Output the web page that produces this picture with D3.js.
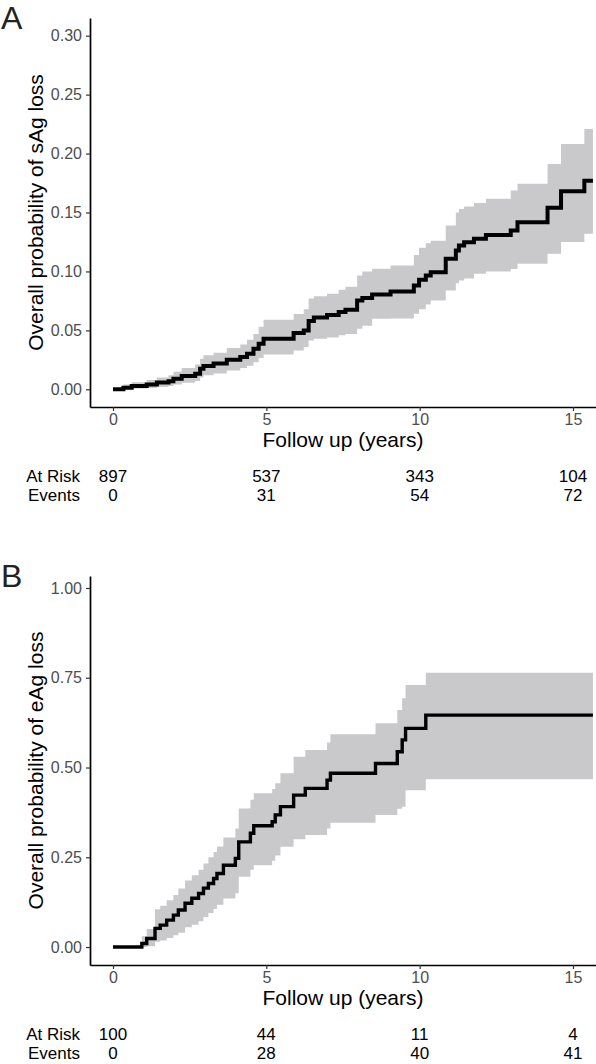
<!DOCTYPE html>
<html>
<head>
<meta charset="utf-8">
<script src="https://cdn.jsdelivr.net/npm/d3@7"></script>
<style>
  body { margin: 0; background: #fff; }
  svg { display: block; font-family: "Liberation Sans", Arial, Helvetica, sans-serif; }
</style>
</head>
<body>
<div id="chart"></div>
<script>
// shared x axis
const xTicks = [0, 5, 10, 15];
const endTime = 15.65;

// Panel A: sAg loss
const timeA  = [0, 0.34, 0.61, 1.10, 1.43, 1.81, 1.97, 2.24, 2.68, 2.84, 2.95, 3.28, 3.71, 4.15, 4.37, 4.58, 4.75, 4.91, 5.89, 6.22, 6.38, 6.55, 6.98, 7.36, 7.58, 7.96, 8.13, 8.45, 9.05, 9.81, 9.98, 10.20, 10.36, 10.85, 11.18, 11.28, 11.45, 11.77, 12.16, 12.97, 13.19, 14.17, 14.61, 15.37];
const estA   = [0, 0.0014, 0.0028, 0.0040, 0.0057, 0.0068, 0.0090, 0.0113, 0.0133, 0.0175, 0.0198, 0.0218, 0.0251, 0.0274, 0.0302, 0.0345, 0.0387, 0.0430, 0.0477, 0.0500, 0.0580, 0.0610, 0.0630, 0.0655, 0.0675, 0.0754, 0.0774, 0.0805, 0.0830, 0.0880, 0.0930, 0.0966, 0.0994, 0.1108, 0.1178, 0.1220, 0.1248, 0.1277, 0.1310, 0.1347, 0.1418, 0.1540, 0.1680, 0.1770];
const lowerA = [0, 0.0002, 0.0006, 0.0012, 0.0020, 0.0028, 0.0040, 0.0055, 0.0070, 0.0100, 0.0120, 0.0135, 0.0160, 0.0180, 0.0200, 0.0230, 0.0265, 0.0295, 0.0330, 0.0360, 0.0415, 0.0430, 0.0440, 0.0458, 0.0470, 0.0514, 0.0540, 0.0599, 0.0600, 0.0641, 0.0680, 0.0720, 0.0754, 0.0839, 0.0900, 0.0924, 0.0940, 0.0980, 0.1000, 0.1020, 0.1065, 0.1150, 0.1249, 0.1319];
const upperA = [0, 0.0040, 0.0060, 0.0080, 0.0100, 0.0120, 0.0150, 0.0180, 0.0210, 0.0260, 0.0290, 0.0310, 0.0350, 0.0380, 0.0420, 0.0470, 0.0530, 0.0590, 0.0640, 0.0680, 0.0770, 0.0790, 0.0810, 0.0845, 0.0870, 0.0966, 0.1000, 0.1023, 0.1051, 0.1140, 0.1200, 0.1240, 0.1260, 0.1390, 0.1500, 0.1530, 0.1550, 0.1580, 0.1616, 0.1686, 0.1743, 0.1912, 0.2082, 0.2209];
const yTicksA = [0, 0.05, 0.10, 0.15, 0.20, 0.25, 0.30];
const atRiskA = [897, 537, 343, 104];
const eventsA = [0, 31, 54, 72];

// Panel B: eAg loss
const timeB  = [0, 0.94, 1.10, 1.37, 1.54, 1.75, 1.97, 2.13, 2.35, 2.57, 2.79, 2.95, 3.11, 3.28, 3.39, 3.60, 3.99, 4.10, 4.48, 4.59, 5.19, 5.29, 5.46, 5.89, 6.27, 6.98, 7.09, 8.56, 9.27, 9.43, 9.54, 10.20];
const estB   = [0, 0.010, 0.024, 0.052, 0.061, 0.075, 0.089, 0.103, 0.122, 0.136, 0.149, 0.164, 0.177, 0.191, 0.205, 0.228, 0.247, 0.293, 0.317, 0.338, 0.349, 0.368, 0.391, 0.423, 0.442, 0.465, 0.484, 0.511, 0.544, 0.577, 0.609, 0.646];
const lowerB = [0, 0.000, 0.002, 0.015, 0.018, 0.025, 0.033, 0.040, 0.055, 0.062, 0.072, 0.084, 0.095, 0.106, 0.118, 0.135, 0.150, 0.196, 0.215, 0.228, 0.240, 0.255, 0.279, 0.300, 0.312, 0.330, 0.346, 0.368, 0.385, 0.391, 0.437, 0.467];
const upperB = [0, 0.030, 0.050, 0.105, 0.115, 0.130, 0.145, 0.163, 0.185, 0.200, 0.215, 0.233, 0.250, 0.265, 0.280, 0.305, 0.330, 0.386, 0.410, 0.428, 0.440, 0.456, 0.484, 0.530, 0.549, 0.570, 0.593, 0.623, 0.660, 0.693, 0.730, 0.764];
const yTicksB = [0, 0.25, 0.50, 0.75, 1.00];
const atRiskB = [100, 44, 11, 4];
const eventsB = [0, 28, 40, 41];

const width = 596, height = 1064;

const svg = d3.select("#chart")
    .append("svg")
    .attr("width", width)
    .attr("height", height);

const panels = [
    {
        letter: "A", top: 0, ylabel: "Overall probability of sAg loss",
        time: timeA, est: estA, lower: lowerA, upper: upperA,
        yTicks: yTicksA, yDomain: [-0.015, 0.315], yRange: [407, 18],
        atRisk: atRiskA, events: eventsA, lineWidth: 4
    },
    {
        letter: "B", top: 558, ylabel: "Overall probability of eAg loss",
        time: timeB, est: estB, lower: lowerB, upper: upperB,
        yTicks: yTicksB, yDomain: [-0.05, 1.0334], yRange: [407, 18],
        atRisk: atRiskB, events: eventsB, lineWidth: 3.4
    }
];

panels.forEach(drawPanel);

function drawPanel(p) {
    const g = svg.append("g").attr("transform", `translate(0,${p.top})`);

    const x = d3.scaleLinear().domain([-0.75, 15.75]).range([90, 596]);
    const y = d3.scaleLinear().domain(p.yDomain).range(p.yRange);

    // step data, carried on to the last follow up
    const pts = p.time.map((t, i) => ({ t, est: p.est[i], lo: p.lower[i], hi: p.upper[i] }));
    const last = pts[pts.length - 1];
    pts.push({ t: endTime, est: last.est, lo: last.lo, hi: last.hi });

    g.append("path")
        .datum(pts)
        .attr("fill", "#c9c9cb")
        .attr("d", d3.area()
            .curve(d3.curveStepAfter)
            .x(d => x(d.t))
            .y0(d => y(d.lo))
            .y1(d => y(d.hi)));

    g.append("path")
        .datum(pts)
        .attr("fill", "none")
        .attr("stroke", "#000")
        .attr("stroke-width", p.lineWidth)
        .attr("stroke-linejoin", "miter")
        .attr("d", d3.line()
            .curve(d3.curveStepAfter)
            .x(d => x(d.t))
            .y(d => y(d.est)));

    // axes
    const yAxis = g.append("g")
        .attr("transform", "translate(90,0)")
        .call(d3.axisLeft(y)
            .tickValues(p.yTicks)
            .tickFormat(d3.format(".2f"))
            .tickSize(4)
            .tickSizeOuter(0)
            .tickPadding(4));

    const xAxis = g.append("g")
        .attr("transform", `translate(0,${p.yRange[0]})`)
        .call(d3.axisBottom(x)
            .tickValues(xTicks)
            .tickSize(4)
            .tickSizeOuter(0)
            .tickPadding(3));

    [yAxis, xAxis].forEach(a => {
        a.select(".domain").attr("stroke", "#000").attr("stroke-width", 1.7);
        a.selectAll(".tick line").attr("stroke", "#333").attr("stroke-width", 1.2);
        a.selectAll(".tick text")
            .attr("fill", "#4d4d4d")
            .attr("font-size", 16)
            .attr("font-family", "Liberation Sans, Arial, sans-serif");
    });

    // titles
    g.append("text")
        .attr("x", 1)
        .attr("y", 29)
        .attr("font-size", 32)
        .attr("fill", "#222")
        .text(p.letter);

    g.append("text")
        .attr("transform", `translate(43,${(p.yRange[0] + p.yRange[1]) / 2}) rotate(-90)`)
        .attr("text-anchor", "middle")
        .attr("font-size", 21)
        .attr("fill", "#000")
        .text(p.ylabel);

    g.append("text")
        .attr("x", (90 + 596) / 2)
        .attr("y", 447)
        .attr("text-anchor", "middle")
        .attr("font-size", 21)
        .attr("fill", "#000")
        .text("Follow up (years)");

    // risk table
    const rows = [
        { label: "At Risk", values: p.atRisk, y: 482 },
        { label: "Events", values: p.events, y: 501 }
    ];
    rows.forEach(r => {
        g.append("text")
            .attr("x", 80)
            .attr("y", r.y)
            .attr("text-anchor", "end")
            .attr("font-size", 17)
            .text(r.label);
        g.selectAll(null)
            .data(r.values)
            .join("text")
            .attr("x", (d, i) => x(xTicks[i]))
            .attr("y", r.y)
            .attr("text-anchor", "middle")
            .attr("font-size", 17)
            .text(d => d);
    });
}
</script>
</body>
</html>
